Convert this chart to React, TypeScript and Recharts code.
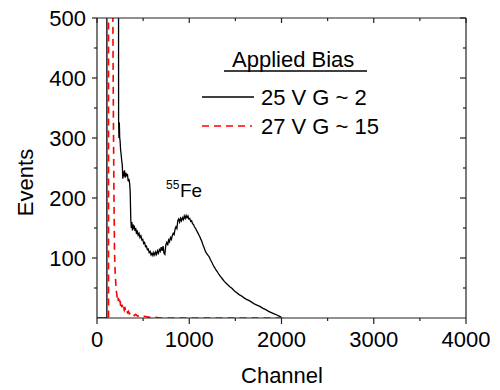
import React from 'react';
import { LineChart, Line, XAxis, YAxis } from 'recharts';

const xMajorTicks = [0, 1000, 2000, 3000, 4000];
const xMinorTicks = [500, 1500, 2500, 3500];
const yMajorTicks = [100, 200, 300, 400, 500];
const yMinorTicks = [50, 150, 250, 350, 450];

const legendTitle = 'Applied Bias';
const seriesNames = ['25 V G ~ 2', '27 V G ~ 15'];

const blackChannels = [
  0, 107, 108, 226, 234, 238, 242, 246, 250, 256, 262, 268, 274, 280, 286, 292, 298, 306, 314, 322,
  330, 338, 346, 354, 360, 366, 372, 378, 384, 390, 396, 404, 412, 420, 428, 436, 446, 456, 466, 476,
  486, 496, 506, 516, 526, 536, 546, 556, 566, 576, 586, 596, 606, 616, 626, 636, 646, 656, 666, 676,
  686, 696, 706, 716, 726, 736, 746, 756, 766, 776, 786, 796, 806, 816, 826, 836, 846, 856, 866, 876,
  886, 896, 906, 916, 926, 936, 946, 956, 966, 976, 986, 996, 1006, 1016, 1026, 1036, 1046, 1056, 1066, 1076,
  1086, 1096, 1106, 1116, 1126, 1136, 1146, 1156, 1166, 1176, 1186, 1196, 1206, 1216, 1230, 1245, 1260, 1275, 1290, 1305,
  1320, 1340, 1360, 1380, 1400, 1420, 1440, 1465, 1490, 1515, 1540, 1565, 1590, 1620, 1650, 1680, 1710, 1740, 1770, 1800,
  1830, 1860, 1890, 1920, 1950, 1975, 1990, 2000,
];
const blackEvents = [
  0, 0, 3000, 3000, 330, 300, 326, 300, 296, 280, 272, 262, 255, 232, 244, 236, 246, 234, 242, 236,
  240, 228, 232, 224, 210, 165, 150, 160, 146, 156, 148, 154, 145, 150, 140, 146, 138, 141, 134, 137,
  130, 131, 124, 126, 119, 120, 114, 115, 109, 111, 105, 108, 104, 109, 105, 110, 106, 112, 108, 114,
  111, 118, 112, 120, 108, 106, 122, 126, 121, 130, 127, 134, 131, 137, 141, 139, 148, 152, 149, 162,
  165, 160, 166, 162, 167, 164, 170, 166, 171, 167, 170, 165, 166, 161, 162, 157, 156, 152, 150, 147,
  144, 141, 138, 135, 131, 128, 123, 119, 115, 111, 108, 106, 104, 102, 97, 93, 88, 84, 80, 77,
  73, 69, 65, 61, 58, 55, 52, 49, 45, 42, 39, 37, 34, 31, 29, 26, 23, 21, 19, 16,
  14, 11, 9, 7, 5, 3, 2, 0,
];

const redChannels = [
  0, 125, 126, 165, 172, 178, 184, 190, 196, 202, 208, 214, 220, 226, 232, 238, 244, 250, 256, 262,
  268, 274, 280, 288, 296, 304, 312, 320, 330, 340, 350, 362, 375, 390, 405, 420, 440, 460, 485, 510,
  540, 570, 600, 640, 680, 2050,
];
const redEvents = [
  0, 0, 3000, 3000, 500, 330, 200, 110, 80, 62, 48, 40, 34, 38, 28, 32, 24, 29, 20, 25,
  18, 22, 15, 19, 13, 16, 10, 13, 9, 11, 7, 9, 6, 7, 4, 6, 3, 4, 2, 3,
  2, 1, 1, 1, 0, 0,
];

const blackData = blackChannels.map((ch, i) => ({ ch, ev: blackEvents[i] }));
const redData = redChannels.map((ch, i) => ({ ch, ev: redEvents[i] }));

const xTicks = [...xMajorTicks, ...xMinorTicks].sort((a, b) => a - b);
const yTicks = [...yMinorTicks, ...yMajorTicks].sort((a, b) => a - b);

const FONT = '"Liberation Sans", Arial, Helvetica, sans-serif';
const AX = '#222';
const AXW = 1.2;

function BottomTick(props: any) {
  const { x, y, payload } = props;
  const major = xMajorTicks.includes(payload.value);
  return (
    <g>
      <line x1={x} x2={x} y1={y} y2={y + (major ? 6 : 3)} stroke={AX} strokeWidth={AXW} />
      {major && (
        <text x={x} y={y + 29} textAnchor="middle" fontSize={22} fontFamily={FONT} fill="#000">
          {payload.value}
        </text>
      )}
    </g>
  );
}

function TopTick(props: any) {
  const { x, y, payload } = props;
  const major = xMajorTicks.includes(payload.value);
  return <line x1={x} x2={x} y1={y} y2={y + (major ? 5 : 3)} stroke={AX} strokeWidth={AXW} />;
}

function LeftTick(props: any) {
  const { x, y, payload } = props;
  const major = yMajorTicks.includes(payload.value);
  return (
    <g>
      <line x1={x} x2={x - (major ? 5 : 3)} y1={y} y2={y} stroke={AX} strokeWidth={AXW} />
      {major && (
        <text x={x - 11} y={y + 7.5} textAnchor="end" fontSize={22} fontFamily={FONT} fill="#000">
          {payload.value}
        </text>
      )}
    </g>
  );
}

function RightTick(props: any) {
  const { x, y, payload } = props;
  const major = yMajorTicks.includes(payload.value);
  return <line x1={x} x2={x - (major ? 6 : 3)} y1={y} y2={y} stroke={AX} strokeWidth={AXW} />;
}

export default function App() {
  return (
    <div style={{ position: 'absolute', left: 0, top: 0, width: 500, height: 390, background: '#fff' }}>
      <LineChart width={500} height={390} margin={{ top: 17, right: 33, bottom: 0, left: 0 }}>
        <XAxis
          xAxisId="b"
          dataKey="ch"
          type="number"
          domain={[0, 4000]}
          ticks={xTicks}
          interval={0}
          height={72}
          tickSize={0}
          tickMargin={0}
          tickLine={false}
          tick={<BottomTick />}
          axisLine={{ stroke: AX, strokeWidth: AXW }}
          allowDataOverflow
        />
        <XAxis
          xAxisId="t"
          orientation="top"
          dataKey="ch"
          type="number"
          domain={[0, 4000]}
          ticks={xTicks}
          interval={0}
          height={1}
          tickSize={0}
          tickMargin={0}
          tickLine={false}
          tick={<TopTick />}
          axisLine={{ stroke: AX, strokeWidth: AXW }}
          allowDataOverflow
        />
        <YAxis
          yAxisId="l"
          type="number"
          domain={[0, 500]}
          ticks={yTicks}
          interval={0}
          width={97}
          tickSize={0}
          tickMargin={0}
          tickLine={false}
          tick={<LeftTick />}
          axisLine={{ stroke: AX, strokeWidth: AXW }}
          allowDataOverflow
        />
        <YAxis
          yAxisId="r"
          orientation="right"
          type="number"
          domain={[0, 500]}
          ticks={yTicks}
          interval={0}
          width={1}
          tickSize={0}
          tickMargin={0}
          tickLine={false}
          tick={<RightTick />}
          axisLine={{ stroke: AX, strokeWidth: AXW }}
          allowDataOverflow
        />
        <Line
          xAxisId="b"
          yAxisId="l"
          data={blackData}
          dataKey="ev"
          type="linear"
          stroke="#000"
          strokeWidth={1.3}
          dot={false}
          activeDot={false}
          isAnimationActive={false}
        />
        <Line
          xAxisId="b"
          yAxisId="l"
          data={redData}
          dataKey="ev"
          type="linear"
          stroke="#ff0000"
          strokeWidth={1.6}
          strokeDasharray="7 5"
          dot={false}
          activeDot={false}
          isAnimationActive={false}
        />
      </LineChart>
      <svg
        width={500}
        height={390}
        style={{ position: 'absolute', left: 0, top: 0, pointerEvents: 'none' }}
        fontFamily={FONT}
      >
        <text x={232} y={67} fontSize={22} fill="#000">{legendTitle}</text>
        <line x1={224} x2={367} y1={71} y2={71} stroke="#000" strokeWidth={1.5} />
        <line x1={202} x2={254} y1={97} y2={97} stroke="#000" strokeWidth={1.5} />
        <text x={261} y={105} fontSize={22} fill="#000">{seriesNames[0]}</text>
        <line x1={202} x2={252} y1={126} y2={126} stroke="#ff0000" strokeWidth={1.6} strokeDasharray="7 5" />
        <text x={261} y={134} fontSize={22} fill="#000">{seriesNames[1]}</text>
        <text x={166} y={188.5} fontSize={12} fill="#000">55</text>
        <text x={180} y={197} fontSize={19} fill="#000">Fe</text>
        <text x={282} y={383} fontSize={22} textAnchor="middle" fill="#000">Channel</text>
        <text x={33} y={182.5} fontSize={22} textAnchor="middle" fill="#000" transform="rotate(-90 33 182.5)">
          Events
        </text>
      </svg>
    </div>
  );
}
